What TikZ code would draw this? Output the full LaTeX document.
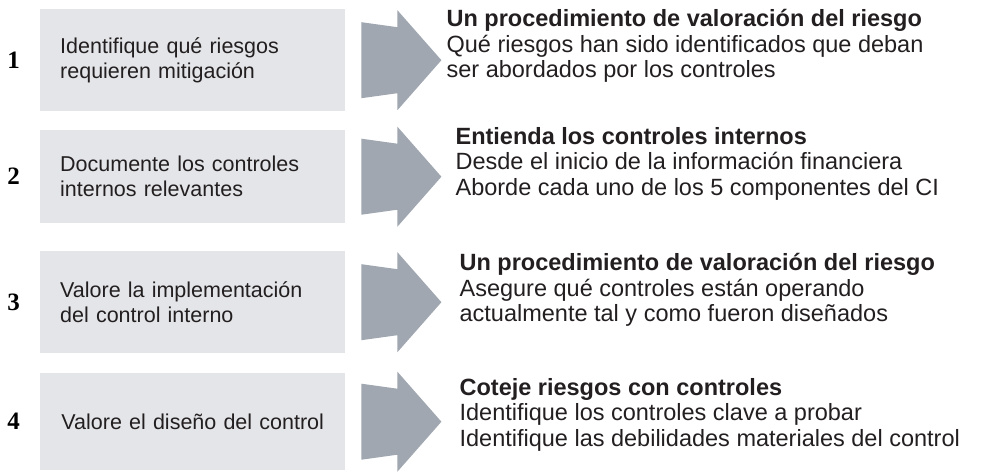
\documentclass[tikz,border=0pt]{standalone}
\usepackage{fontspec}
\setmainfont{Liberation Sans}
\newfontfamily\numfont{Liberation Serif}
\usetikzlibrary{positioning}
\definecolor{StepGray}{HTML}{E4E5E8}
\definecolor{ArrowGray}{HTML}{A0A7B1}
\definecolor{TextDark}{HTML}{231F20}
\tikzset{
    % Left step box
    stepbox/.style={
        fill=StepGray,
        anchor=north west,
        minimum width=305pt,
        inner xsep=20pt,
        inner ysep=0pt,
        text width=265pt,
        align=left,
        text=TextDark,
        font=\fontsize{21.5}{25}\selectfont
    },
    % Step number
    numnode/.style={
        inner sep=0pt,
        font=\numfont\bfseries\fontsize{25}{28}\selectfont
    },
    % Block arrow
    blockarrow/.style={
        fill=ArrowGray
    },
    % Text to the right of the arrow
    infonode/.style={
        inner sep=0pt,
        align=left,
        anchor=west,
        text=TextDark,
        font=\fontsize{23.5}{25.5}\selectfont
    }
}

\begin{document}
\begin{tikzpicture}[x=1pt,y=-1pt]
\useasboundingbox (0,0) rectangle (982,471);

% left boxes
\node[stepbox,minimum height=102pt] (box1) at (40,9) {Identifique qué riesgos\\requieren mitigación};
\node[stepbox,minimum height=93pt] (box2) at (40,130) {Documente los controles\\internos relevantes};
\node[stepbox,minimum height=102pt] (box3) at (40,251) {Valore la implementación\\del control interno};
\node[stepbox,minimum height=97pt,align=center] (box4) at (40,373) {Valore el diseño del control};

% numbers
\foreach \n in {1,...,4}
    \node[numnode,left=20pt of box\n] (num\n) {\n};

% arrows
\foreach \n in {1,...,4} {
    \coordinate (arr\n) at ([xshift=16pt]box\n.east);
    \coordinate (tip\n) at ([xshift=80pt]arr\n);
    \fill[blockarrow,shift={(arr\n)}] (0,-38) -- (36,-33) -- (36,-50) -- (80,0)
        -- (36,50) -- (36,33) -- (0,38) -- cycle;
}

% texts on the right
\node[infonode] (info1) at ([xshift=5pt,yshift=14pt]tip1) {\textbf{Un procedimiento de valoración del riesgo}\\Qué riesgos han sido identificados que deban\\ser abordados por los controles};
\node[infonode] (info2) at ([xshift=14pt,yshift=13pt]tip2) {\textbf{Entienda los controles internos}\\Desde el inicio de la información financiera\\Aborde cada uno de los 5 componentes del CI};
\node[infonode] (info3) at ([xshift=18pt,yshift=12pt]tip3) {\textbf{Un procedimiento de valoración del riesgo}\\Asegure qué controles están operando\\actualmente tal y como fueron diseñados};
\node[infonode] (info4) at ([xshift=18pt,yshift=7pt]tip4) {\textbf{Coteje riesgos con controles}\\Identifique los controles clave a probar\\Identifique las debilidades materiales del control};
\end{tikzpicture}
\end{document}
